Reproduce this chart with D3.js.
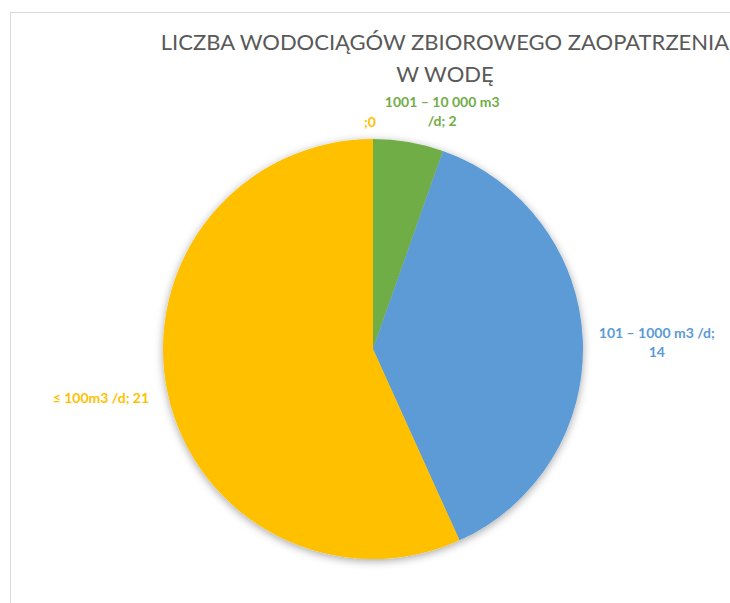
<!DOCTYPE html>
<html>
<head>
<meta charset="utf-8">
<script src="https://cdn.jsdelivr.net/npm/d3@7"></script>
<style>
  html, body { margin: 0; padding: 0; background: #fff; }
  svg { display: block; font-family: Lato, "Open Sans", sans-serif; }
</style>
</head>
<body>
<script>
// Slice categories, clockwise from 12 o'clock.
const categories = ["1001 – 10 000 m3 /d", "101 – 1000 m3 /d", "≤ 100m3 /d", ""];

// Number of water supply systems.
const values = [2, 14, 21, 0];

// Label lines as Excel wrapped them.
const labelLines = [
    ["1001 – 10 000 m3", "/d; 2"],
    ["101 – 1000 m3 /d;", "14"],
    ["≤ 100m3 /d; 21"],
    [";0"]
];

// Slice colors.
const colors = ["#70ad47", "#5b9bd5", "#ffc000", "#ffc000"];

// Title lines.
const titleLines = ["LICZBA WODOCIĄGÓW ZBIOROWEGO ZAOPATRZENIA", "W WODĘ"];

const Width = 730;
const Height = 603;
const Cx = 373;
const Cy = 349;
const Radius = 210;
const LabelRadius = Radius + 16;
const LineHeight = 19;

// Small nudges for each label, Excel-like placement.
const labelNudge = [[31, -14], [0, 4], [-3, 2], [3, 0]];

const svg = d3.select("body").append("svg")
    .attr("width", Width)
    .attr("height", Height);

// Drop shadow for the pie.
const defs = svg.append("defs");
defs.append("filter")
    .attr("id", "shadow")
    .attr("x", "-20%").attr("y", "-20%")
    .attr("width", "140%").attr("height", "140%")
    .append("feDropShadow")
    .attr("dx", 0).attr("dy", 2)
    .attr("stdDeviation", 4)
    .attr("flood-color", "#000")
    .attr("flood-opacity", 0.35);

// Chart frame (extends past the window on right and bottom).
svg.append("rect")
    .attr("x", 10.5).attr("y", 12.5)
    .attr("width", Width + 20).attr("height", Height + 20)
    .attr("fill", "#fff")
    .attr("stroke", "#d9d9d9")
    .attr("stroke-width", 1);

// Title.
svg.append("text")
    .attr("text-anchor", "middle")
    .attr("fill", "#595959")
    .attr("font-size", 22)
    .selectAll("tspan")
    .data(titleLines)
    .join("tspan")
    .attr("x", 445)
    .attr("y", (d, i) => 50 + i * 32)
    .text(d => d);

const data = categories.map((c, i) => ({ category: c, value: values[i], i: i }));

const pie = d3.pie()
    .sort(null)
    .value(d => d.value);

const arcs = pie(data);

const arc = d3.arc()
    .innerRadius(0)
    .outerRadius(Radius);

const group = svg.append("g")
    .attr("transform", `translate(${Cx},${Cy})`);

group.append("g")
    .attr("filter", "url(#shadow)")
    .selectAll("path")
    .data(arcs.filter(d => d.value > 0))
    .join("path")
    .attr("fill", d => colors[d.data.i])
    .attr("d", arc);

// Data labels outside the pie.
arcs.forEach(d => {
    const a = (d.startAngle + d.endAngle) / 2;
    const sx = Math.sin(a);
    const cy = -Math.cos(a);
    const lines = labelLines[d.data.i];
    const nudge = labelNudge[d.data.i];
    const x = sx * LabelRadius + nudge[0];
    const y = cy * LabelRadius + nudge[1];
    const firstBaseline = y - (lines.length - 1) * LineHeight / 2 + 4;
    const text = group.append("text")
        .attr("fill", colors[d.data.i])
        .attr("font-size", 14)
        .attr("font-weight", "bold")
        .attr("text-anchor", "middle");
    lines.forEach((line, k) => {
        text.append("tspan")
            .attr("y", firstBaseline + k * LineHeight)
            .text(line);
    });
    // Horizontal: push the label box off the side of the pie.
    let boxWidth = 0;
    text.selectAll("tspan").each(function () {
        boxWidth = Math.max(boxWidth, this.getComputedTextLength());
    });
    let centerX = x;
    if (sx > 0.5) centerX = x + boxWidth / 2;
    else if (sx < -0.5 || Math.abs(sx) < 0.05) centerX = x - boxWidth / 2;
    text.selectAll("tspan").attr("x", centerX);
});
</script>
</body>
</html>
